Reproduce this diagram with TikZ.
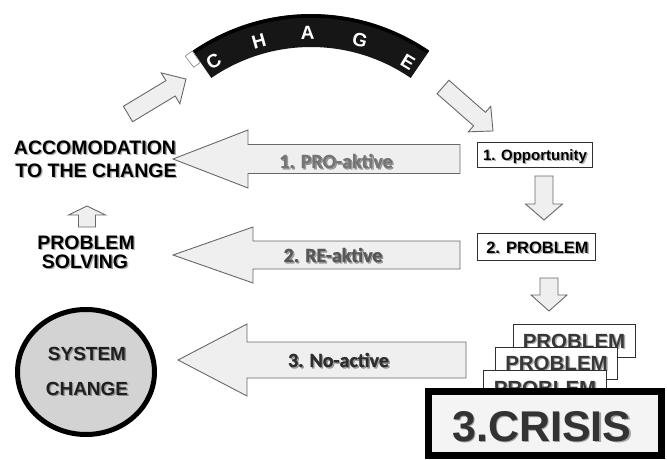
\documentclass[tikz,border=0pt]{standalone}
\usepackage{fontspec}
\setmainfont{Liberation Sans}
\newfontfamily\labelfont{Carlito}[BoldFeatures={FakeBold=1.2}]
\usetikzlibrary{shapes.geometric}

\definecolor{arrowfill}{HTML}{EFEFEF}
\definecolor{arrowline}{HTML}{686868}
\definecolor{bandfill}{HTML}{161616}
\definecolor{circfill}{HTML}{D3D3D3}
\definecolor{crisisfill}{HTML}{F4F4F4}
\definecolor{boxline}{HTML}{303030}

\tikzset{
  blockfill/.style={fill=arrowfill, draw=arrowline, line width=0.9pt, line join=miter},
  % block arrow pointing along +x: length, head length, shaft half width, head half width
  pics/blockarrow/.style n args={4}{code={
    \path[blockfill] (0,-#3) -- (#1-#2,-#3) -- (#1-#2,-#4) -- (#1,0)
      -- (#1-#2,#4) -- (#1-#2,#3) -- (0,#3) -- cycle;}},
  txt/.style={anchor=base, inner sep=0pt, outer sep=0pt},
  headtxt/.style={txt, font=\bfseries\fontsize{19.5}{23}\selectfont, text=black},
  circtxt/.style={txt, font=\bfseries\fontsize{19}{23}\selectfont, text=black!88},
  probtxt/.style={txt, font=\bfseries\fontsize{20.5}{24}\selectfont, text=black!78},
  armtxt/.style={anchor=center, inner sep=0pt, font=\labelfont\bfseries\fontsize{20}{24}\selectfont},
  txtshadow/.style={text=black, text opacity=0.33},
  framebox/.style={rectangle, draw=boxline, line width=0.9pt, fill=white,
    inner sep=0pt, outer sep=0pt},
  bandletter/.style={text=white, font=\bfseries\fontsize{19}{22}\selectfont, inner sep=0pt},
}

% text node with a soft drop shadow beneath it
\newcommand\shnode[4]{%
  \node[#3, txtshadow, xshift=1.4pt, yshift=-1.4pt] (#1-sh) at (#2) {#4};
  \node[#3] (#1) at (#2) {#4};}

\begin{document}
\begin{tikzpicture}[x=1pt, y=-1pt]
\useasboundingbox (0,0) rectangle (667,460);

% curved band with the spaced letters
\begin{scope}[shift={(311,223)}]
  \fill[bandfill] (-55.5:209) arc[start angle=-55.5, end angle=-124.5, radius=209]
    -- (-124.5:176) arc[start angle=-124.5, end angle=-55.5, radius=176] -- cycle;
  \draw[black, line width=3.5pt] (-55.7:207) arc[start angle=-55.7, end angle=-124.3, radius=207];
  \path[fill=white, draw=gray, line width=0.6pt]
    (-124.6:195) -- (-124.6:209) -- (-127:209) -- (-127:195) -- cycle;
  \node[bandletter, rotate=31]  (lC) at (-121:189) {C};
  \node[bandletter, rotate=16]  (lH) at (-106:189) {H};
  \node[bandletter, rotate=1]   (lA) at (-91:190)  {A};
  \node[bandletter, rotate=-15] (lG) at (-75:189)  {G};
  \node[bandletter, rotate=-31] (lE) at (-59:188)  {E};
\end{scope}

% cycle arrows
\pic[rotate=31.1]  at (128,114) {blockarrow={67.7}{18}{9}{18}};
\pic[rotate=-41.3] at (443,87)  {blockarrow={66.6}{18}{9}{17}};
\pic[rotate=90]    at (87,227)  {blockarrow={21}{9}{8.5}{18.5}};
\pic[rotate=-90]   at (544,176) {blockarrow={44}{16}{9}{18.5}};
\pic[rotate=-90]   at (549,278) {blockarrow={33}{16}{9}{18}};

% three large reaction arrows
\pic[rotate=180] at (460,159) {blockarrow={287}{75}{14.5}{29}};
\pic[rotate=180] at (460,255) {blockarrow={287}{80}{14}{28}};
\pic[rotate=180] at (466,360) {blockarrow={288}{69}{18}{36}};
\shnode{lab1}{336,161}{armtxt, text=black!54}{1. PRO-aktive}
\shnode{lab2}{333,255}{armtxt, text=black!66}{2. RE-aktive}
\shnode{lab3}{338.5,360}{armtxt, text=black!82}{3. No-active}

% left column
\shnode{acc1}{95,154}{headtxt}{ACCOMODATION}
\shnode{acc2}{96,177}{headtxt}{TO THE CHANGE}
\shnode{ps1}{86,249}{headtxt}{PROBLEM}
\shnode{ps2}{85,268.5}{headtxt}{SOLVING}

\node[ellipse, draw=black, line width=5pt, fill=circfill, minimum width=137pt,
  minimum height=125pt, inner sep=0pt] (circ) at (86,372) {};
\shnode{sys1}{87,360}{circtxt}{SYSTEM}
\shnode{sys2}{87,395}{circtxt}{CHANGE}

% right column
\node[framebox, minimum width=115pt, minimum height=25pt] (opp) at (534.5,154.5) {};
\shnode{oppt}{535,160}{txt, font=\bfseries\fontsize{15}{18}\selectfont}{1. Opportunity}
\node[framebox, minimum width=118pt, minimum height=27pt] (prob) at (536,246.5) {};
\shnode{probt}{537.5,253}{txt, font=\bfseries\fontsize{16.5}{20}\selectfont}{2. PROBLEM}

\node[framebox, minimum width=122pt, minimum height=33pt] (pa) at (574,340.5) {};
\shnode{pat}{574,348}{probtxt}{PROBLEM}
\node[framebox, minimum width=122pt, minimum height=32pt] (pb) at (556,363) {};
\shnode{pbt}{556.5,370}{probtxt}{PROBLEM}
\node[framebox, minimum width=123pt, minimum height=35pt] (pc) at (544.5,387.5) {};
\shnode{pct}{545,395}{probtxt}{PROBLEM}

\node[rectangle, draw=black, line width=7pt, fill=crisisfill, minimum width=233pt,
  minimum height=64pt, inner sep=0pt] (crisis) at (545,423.5) {};
\shnode{crisist}{542,441.5}{txt, font=\bfseries\fontsize{43}{50}\selectfont, text=black!80}{3.CRISIS}
\end{tikzpicture}
\end{document}
